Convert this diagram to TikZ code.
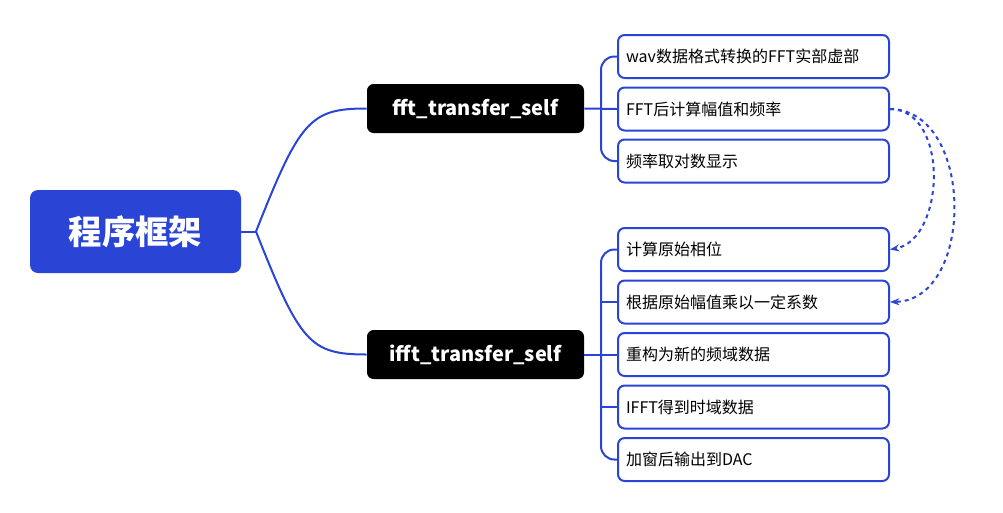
\documentclass[tikz,border=0pt]{standalone}
\usepackage{fontspec}
\setmainfont{Noto Sans CJK SC}
\usetikzlibrary{arrows.meta}
\definecolor{mblue}{HTML}{2A44D6}
\begin{document}
\begin{tikzpicture}[x=0.75pt,y=-0.75pt,
  leaf/.style={draw=mblue,line width=1.5pt,rounded corners=5pt,minimum width=271*0.75pt,minimum height=43*0.75pt,anchor=west,text width=255*0.75pt,align=left,font=\fontsize{12}{14}\selectfont,inner xsep=8*0.75pt},
  mid/.style={fill=black,text=white,rounded corners=5pt,minimum width=217*0.75pt,minimum height=49*0.75pt,font=\fontsize{15}{18}\selectfont\bfseries},
  con/.style={draw=mblue,line width=1.5pt},
  dasharrow/.style={con,dashed,-{Stealth[length=7pt]}}]
\useasboundingbox (0,0) rectangle (1003,512);
\node[fill=mblue,text=white,rounded corners=6pt,minimum width=211*0.75pt,minimum height=83*0.75pt,font=\fontsize{25}{30}\selectfont\bfseries] (root) at (135.5,231.5) {程序框架};
\node[mid] (fft) at (475.5,108.5) {fft\_transfer\_self};
\node[mid] (ifft) at (475.5,354.5) {ifft\_transfer\_self};
\node[leaf] (a1) at (617,56.5) {wav数据格式转换的FFT实部虚部};
\node[leaf] (a2) at (617,109) {FFT后计算幅值和频率};
\node[leaf] (a3) at (617,161) {频率取对数显示};
\node[leaf] (b1) at (617,249.5) {计算原始相位};
\node[leaf] (b2) at (617,302) {根据原始幅值乘以一定系数};
\node[leaf] (b3) at (617,354.5) {重构为新的频域数据};
\node[leaf] (b4) at (617,407) {IFFT得到时域数据};
\node[leaf] (b5) at (617,459.5) {加窗后输出到DAC};
\coordinate (r) at (256,231.5);
\draw[con] (root.east) -- (r);
\draw[con] (r) .. controls (300,120) and (310,108.5) .. (fft.west);
\draw[con] (r) .. controls (300,343) and (310,354.5) .. (ifft.west);
\draw[con] (fft.east) -- (a2.west);
\draw[con,rounded corners=10pt] (a1.west) -| (601,109) |- (a3.west);
\draw[con] (ifft.east) -- (b3.west);
\draw[con,rounded corners=10pt] (b1.west) -| (601,354.5) |- (b5.west);
\draw[con] (601,302) -- (b2.west);
\draw[con] (601,407) -- (b4.west);
\draw[dasharrow] (a2.east) .. controls (950,110) and (945,240) .. (b1.east);
\draw[dasharrow] (a2.east) .. controls (975,110) and (975,300) .. (b2.east);
\end{tikzpicture}
\end{document}
